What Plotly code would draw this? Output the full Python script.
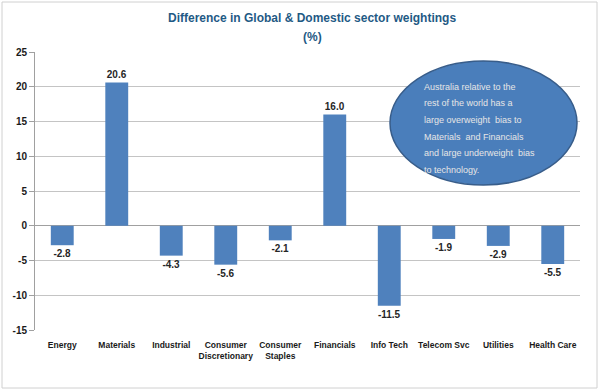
import plotly.graph_objects as go

categories = ["Energy", "Materials", "Industrial", "Consumer<br>Discretionary", "Consumer<br>Staples",
              "Financials", "Info Tech", "Telecom Svc", "Utilities", "Health Care"]
values = [-2.8, 20.6, -4.3, -5.6, -2.1, 16.0, -11.5, -1.9, -2.9, -5.5]
y_ticks = [-15, -10, -5, 0, 5, 10, 15, 20, 25]
title_lines = ["Difference in Global & Domestic sector weightings", "(%)"]
note_lines = ["Australia relative to the", "rest of the world has a", "large overweight  bias to",
              "Materials  and Financials", "and large underweight  bias", "to technology."]

W, H = 600, 392
L, R, T, B = 35, 20, 52, 62
pw, ph = W - L - R, H - T - B

def px(x):
    return (x - L) / pw

def py(y):
    return (H - B - y) / ph

font_fam = "Liberation Sans"
bar_color = "#4F81BD"
grid_color = "#C4C4C4"

fig = go.Figure()
fig.add_trace(go.Bar(
    x=categories, y=values,
    marker=dict(color=bar_color, line=dict(width=0)),
    text=[f"<b>{v:.1f}</b>" for v in values],
    textposition="outside",
    textfont=dict(family=font_fam, size=10, color="#262626"),
    cliponaxis=False,
    width=0.42,
))

shapes = [
    dict(type="rect", xref="paper", yref="paper", x0=px(2), x1=px(597), y0=py(388), y1=py(2),
         line=dict(color="#D0D0D0", width=1), fillcolor="rgba(0,0,0,0)", layer="below"),
    dict(type="circle", xref="paper", yref="paper", x0=px(390), x1=px(577), y0=py(185), y1=py(61),
         line=dict(color="#385D8A", width=1.5), fillcolor="#4A7EBB", layer="above"),
]

annotations = []
for i, t in enumerate(title_lines):
    annotations.append(dict(text="<b>" + t + "</b>", xref="paper", yref="paper",
                            x=px(312), y=py(18 + i * 19), xanchor="center", yanchor="middle",
                            showarrow=False, font=dict(family=font_fam, size=12, color="#1F5A85")))
for i, t in enumerate(note_lines):
    annotations.append(dict(text=t, xref="paper", yref="paper",
                            x=px(422), y=py(87 + i * 16.5), xanchor="left", yanchor="middle",
                            showarrow=False, font=dict(family=font_fam, size=9, color="#E6E6E6")))

fig.update_layout(
    width=W, height=H,
    margin=dict(l=L, r=R, t=T, b=B),
    paper_bgcolor="white", plot_bgcolor="rgba(0,0,0,0)",
    showlegend=False,
    shapes=shapes,
    annotations=annotations,
    font=dict(family=font_fam),
    xaxis=dict(
        showline=False, showgrid=False, ticks="",
        tickvals=categories, ticktext=["<b>" + c + "</b>" for c in categories],
        tickfont=dict(family=font_fam, size=8.5, color="#1a1a1a"),
        tickangle=0, ticklabelstandoff=8,
    ),
    xaxis2=dict(
        overlaying="x", matches="x", anchor="free", position=15 / 40,
        showline=False, showgrid=False, showticklabels=False,
        ticks="outside", tickson="boundaries", ticklen=4, tickcolor="#A0A0A0",
    ),
    yaxis=dict(
        range=[-15, 25], tickvals=y_ticks, ticktext=[f"<b>{v}</b>" for v in y_ticks],
        showgrid=True, gridcolor=grid_color, gridwidth=1,
        zeroline=True, zerolinecolor="#A0A0A0", zerolinewidth=1,
        showline=True, linecolor="#A0A0A0", ticks="outside", ticklen=5, tickcolor="#A0A0A0",
        tickfont=dict(family=font_fam, size=10, color="#1a1a1a"),
    ),
)

fig.write_html("out.html", config={"displayModeBar": False},
               post_script="document.body.style.margin='0';")
